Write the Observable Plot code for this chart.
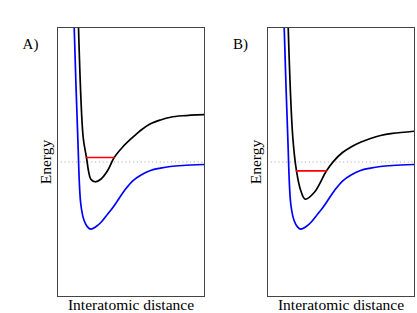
<!DOCTYPE html>
<html>
<head>
<meta charset="utf-8">
<script src="https://cdn.jsdelivr.net/npm/d3@7"></script>
<script src="https://cdn.jsdelivr.net/npm/@observablehq/plot@0.6"></script>
<style>
  html, body { margin: 0; padding: 0; background: #fff; }
  #wrap { display: flex; flex-direction: row; width: 417px; height: 313px; overflow: hidden; }
  svg { display: block; }
</style>
</head>
<body>
<div id="wrap"></div>
<script>
// Interatomic distance (arbitrary units) and energy (arbitrary units, 0 = dissociation level)
const blueR   = [0.544, 0.568, 0.690, 0.793, 0.908, 1.020, 1.133, 1.303, 1.473, 1.701, 1.871, 2.041, 2.279, 2.551, 2.857, 3.163, 3.503, 3.844, 4.252, 5.0];
const blueE   = [2.40, 2.00, 0.364, -0.628, -0.874, -0.964, -0.999, -0.964, -0.900, -0.776, -0.684, -0.577, -0.424, -0.283, -0.190, -0.126, -0.091, -0.067, -0.052, -0.037];

const blackAR = [0.697, 0.714, 0.874, 0.986, 1.054, 1.133, 1.282, 1.473, 1.701, 1.929, 2.211, 2.551, 2.857, 3.163, 3.503, 3.844, 4.252, 5.0];
const blackAE = [2.40, 2.00, 0.364, 0.067, -0.131, -0.256, -0.294, -0.256, -0.131, 0.067, 0.220, 0.364, 0.480, 0.568, 0.625, 0.666, 0.688, 0.706];

const blackBR = [0.687, 0.704, 0.861, 0.986, 1.133, 1.282, 1.588, 2.007, 2.245, 2.551, 2.857, 3.163, 3.503, 3.844, 4.252, 5.0];
const blackBE = [2.40, 2.00, 0.364, -0.131, -0.428, -0.553, -0.454, -0.131, 0.010, 0.141, 0.228, 0.294, 0.350, 0.394, 0.425, 0.458];

const redAR = [0.986, 1.929];
const redAE = [0.067, 0.067];
const redBR = [0.986, 2.007];
const redBE = [-0.131, -0.131];

const panelLabels = ["A)", "B)"];
const xLabel = "Interatomic distance";
const yLabel = "Energy";

const toPts = (xs, ys) => xs.map((x, i) => ({r: x, e: ys[i]}));

function panel(label, blackR, blackE, redR, redE, width, marginRight) {
  return Plot.plot({
    width, height: 313,
    marginLeft: 57, marginRight, marginTop: 27, marginBottom: 17,
    x: {domain: [0, 5], axis: null},
    y: {domain: [-2, 2], axis: null},
    style: {fontFamily: "Liberation Serif", fontSize: "15px", background: "#fff", color: "#000"},
    marks: [
      Plot.ruleY([0], {stroke: "#b0b0b0", strokeWidth: 1, strokeDasharray: "1.2,2.6"}),
      Plot.line(toPts(blueR, blueE), {x: "r", y: "e", stroke: "#0000ff", strokeWidth: 1.7, curve: "catmull-rom", clip: true}),
      Plot.line(toPts(blackR, blackE), {x: "r", y: "e", stroke: "#000", strokeWidth: 1.7, curve: "catmull-rom", clip: true}),
      Plot.line(toPts(redR, redE), {x: "r", y: "e", stroke: "#ff0000", strokeWidth: 1.7}),
      Plot.frame({stroke: "#444", strokeWidth: 1}),
      Plot.text([label], {frameAnchor: "top-left", dx: -27, dy: 17, text: d => d, textAnchor: "middle", lineAnchor: "middle", fontSize: 15}),
      Plot.text([yLabel], {frameAnchor: "left", dx: -11, text: d => d, rotate: -90, textAnchor: "middle", lineAnchor: "middle", fontSize: 15.5}),
      Plot.text([xLabel], {frameAnchor: "bottom", dy: 9, text: d => d, textAnchor: "middle", lineAnchor: "middle", fontSize: 15.5})
    ]
  });
}

const wrap = document.getElementById("wrap");
wrap.appendChild(panel(panelLabels[0], blackAR, blackAE, redAR, redAE, 210, 6));
wrap.appendChild(panel(panelLabels[1], blackBR, blackBE, redBR, redBE, 207, 3));
</script>
</body>
</html>
